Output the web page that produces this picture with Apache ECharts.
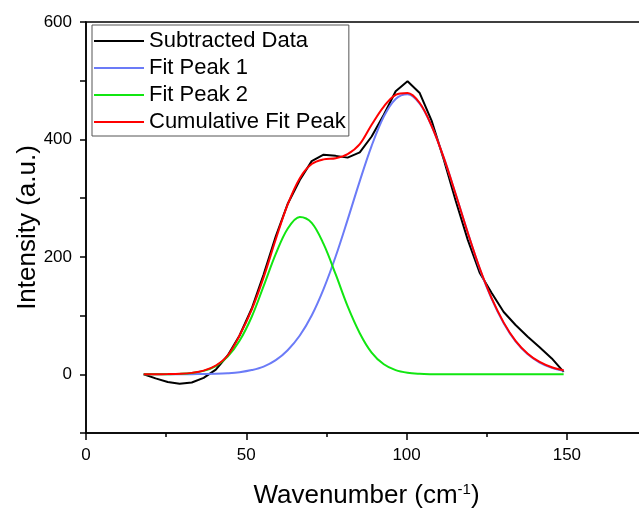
<!DOCTYPE html>
<html>
<head>
<meta charset="UTF-8">
<title>fit peaks</title>
<script src="https://cdn.jsdelivr.net/npm/echarts@6/dist/echarts.min.js"></script>
<style>
  html, body { margin: 0; padding: 0; background: #fff; }
  #chart { width: 639px; height: 510px; }
</style>
</head>
<body>
<div id="chart"></div>
<script>
// wavenumber positions of the data points (cm-1)
var wavenumber = [18.0, 21.7, 25.5, 29.2, 33.0, 36.7, 40.5, 44.2, 47.9, 51.7, 55.4, 59.2,
  62.9, 66.7, 70.4, 74.1, 77.9, 81.6, 85.4, 89.1, 92.9, 96.6, 100.3, 104.1,
  107.8, 111.6, 115.3, 119.1, 122.8, 126.5, 130.3, 134.0, 137.8, 141.5, 145.3, 149.0];

var subtracted = [0, -7, -13, -16, -14, -6, 8, 32, 66, 112, 170, 235,
  290, 331, 363, 374, 372, 369, 378, 405, 442, 482, 499, 479,
  432, 366, 296, 229, 173, 139, 106, 84, 64, 46, 27, 4];

var fitPeak1 = [0, 0, 0, 0.1, 0.2, 0.4, 0.8, 1.8, 3.6, 7.2, 13, 24,
  41, 66, 100, 145, 201, 263, 329, 389, 439, 469, 477, 461,
  423, 369, 307, 241, 180, 129, 87, 56, 34, 20, 11, 6];

var fitPeak2 = [0, 0, 0.2, 0.7, 2.2, 5.8, 14, 30, 57, 98, 150, 205,
  248, 268, 258, 222, 170, 116, 70, 37, 17, 7, 2.5, 0.8,
  0.2, 0, 0, 0, 0, 0, 0, 0, 0, 0, 0, 0];

var cumulative = [0, 0.1, 0.3, 0.8, 2.4, 6.2, 15, 32, 66, 110, 165, 230,
  289, 334, 358, 366, 368, 375, 392, 425, 456, 476, 479, 462,
  423, 369, 307, 241, 181, 130, 88, 57, 35, 21, 12, 7];

var seriesNames = ['Subtracted Data', 'Fit Peak 1', 'Fit Peak 2', 'Cumulative Fit Peak'];
var seriesColors = ['#000000', '#6b7bf7', '#11e611', '#ff0000'];

function pairs(ys) {
  var out = [];
  for (var i = 0; i < wavenumber.length; i++) out.push([wavenumber[i], ys[i]]);
  return out;
}

var font = 'Liberation Sans, Arial, sans-serif';
var chart = echarts.init(document.getElementById('chart'));

var allData = [subtracted, fitPeak1, fitPeak2, cumulative];
var series = [];
for (var s = 0; s < allData.length; s++) {
  series.push({
    name: seriesNames[s],
    type: 'line',
    data: pairs(allData[s]),
    symbol: 'none',
    smooth: s === 0 ? false : 0.35,
    lineStyle: { color: seriesColors[s], width: 2 },
    itemStyle: { color: seriesColors[s] },
    z: 2 + s
  });
}

chart.setOption({
  animation: false,
  textStyle: { fontFamily: font },
  grid: {
    left: 86, top: 22, height: 411, width: 561,
    containLabel: false,
    outerBoundsMode: 'none',
    show: true, borderColor: '#000', borderWidth: 1.5
  },
  legend: {
    orient: 'vertical',
    left: 92, top: 25,
    padding: [5, 3, 3, 2],
    icon: 'rect',
    itemWidth: 50, itemHeight: 2, itemGap: 5,
    borderColor: '#555', borderWidth: 1,
    backgroundColor: '#fff',
    textStyle: { fontSize: 22, lineHeight: 22, color: '#000', fontFamily: font },
    data: seriesNames
  },
  xAxis: {
    type: 'value',
    min: 0, max: 175, interval: 50,
    name: 'Wavenumber (cm{sup|-1})',
    nameLocation: 'middle',
    nameGap: 49,
    nameTextStyle: {
      fontSize: 26, color: '#000', fontFamily: font,
      rich: { sup: { fontSize: 15, verticalAlign: 'top', padding: [0, 0, 12, 0], color: '#000' } }
    },
    axisLine: { onZero: false, lineStyle: { color: '#000', width: 1.5 } },
    axisTick: { inside: false, length: 7, lineStyle: { color: '#000', width: 1.5 } },
    minorTick: { show: true, splitNumber: 2, length: 4, lineStyle: { color: '#000', width: 1.5 } },
    axisLabel: { fontSize: 17, color: '#000', margin: 14, fontFamily: font,
      formatter: function (v) { return v > 160 ? '' : v; } },
    splitLine: { show: false }
  },
  yAxis: {
    type: 'value',
    min: -100, max: 600, interval: 100,
    name: 'Intensity (a.u.)',
    nameLocation: 'middle',
    nameMoveOverlap: false,
    nameGap: 45,
    nameTextStyle: { fontSize: 26, color: '#000', fontFamily: font },
    axisLine: { onZero: false, lineStyle: { color: '#000', width: 1.5 } },
    axisTick: { inside: false, length: 6, lineStyle: { color: '#000', width: 1.5 } },
    axisLabel: { fontSize: 17, color: '#000', margin: 14, fontFamily: font,
      formatter: function (v) { return (v >= 0 && v % 200 === 0) ? v : ''; } },
    splitLine: { show: false }
  },
  series: series
});
</script>
</body>
</html>
